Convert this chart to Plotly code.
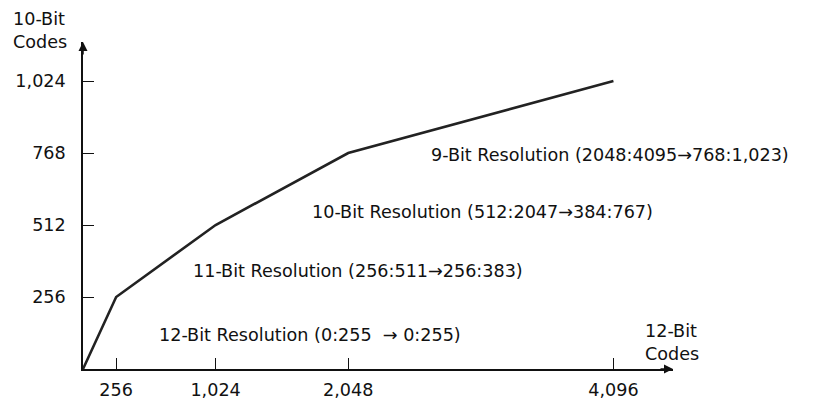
import plotly.graph_objects as go

# Data
x_codes_12bit = [0, 256, 1024, 2048, 4096]
y_codes_10bit = [0, 256, 512, 768, 1024]

x_tickvals = [256, 1024, 2048, 4096]
x_ticktext = ["256", "1,024", "2,048", "4,096"]
y_tickvals = [256, 512, 768, 1024]
y_ticktext = ["256", "512", "768", "1,024"]

region_labels = [
    "9-Bit Resolution (2048:4095\u2192768:1,023)",
    "10-Bit Resolution (512:2047\u2192384:767)",
    "11-Bit Resolution (256:511\u2192256:383)",
    "12-Bit Resolution (0:255  \u2192 0:255)",
]

W, H = 831, 404
L, R, T, B = 83, 158, 42, 35
pw, ph = W - L - R, H - T - B
XMAX = pw / 0.1295
YMAX = ph / 0.28125

def px(x):
    return (x - L) / pw

def py(y):
    return (H - B - y) / ph

FONT = "DejaVu Sans"
FS = 17.6

fig = go.Figure()
fig.add_trace(go.Scatter(
    x=x_codes_12bit, y=y_codes_10bit, mode="lines",
    line=dict(color="#222222", width=2.6), hoverinfo="skip", showlegend=False,
))

label_pos = [(429, 155), (310, 212), (191, 271), (157, 335)]
annotations = []
for text, (lx, ly) in zip(region_labels, label_pos):
    annotations.append(dict(
        text=text, xref="paper", yref="paper", x=px(lx), y=py(ly),
        xanchor="left", yanchor="middle", showarrow=False,
        font=dict(family=FONT, size=FS, color="#111111"),
    ))

# axis titles
annotations.append(dict(
    text="10-Bit<br>Codes", xref="paper", yref="paper", x=px(11), y=py(31),
    xanchor="left", yanchor="middle", align="left", showarrow=False,
    font=dict(family=FONT, size=FS, color="#111111"),
))
annotations.append(dict(
    text="12-Bit<br>Codes", xref="paper", yref="paper", x=px(643), y=py(342),
    xanchor="left", yanchor="middle", align="left", showarrow=False,
    font=dict(family=FONT, size=FS, color="#111111"),
))

# axis arrowheads
annotations.append(dict(
    x=1, y=0, xref="paper", yref="paper", ax=-14, ay=0, text="",
    showarrow=True, arrowhead=2, arrowsize=1.2, arrowwidth=1.5, arrowcolor="#111111",
))
annotations.append(dict(
    x=0, y=1, xref="paper", yref="paper", ax=0, ay=14, text="",
    showarrow=True, arrowhead=2, arrowsize=1.2, arrowwidth=1.5, arrowcolor="#111111",
))

fig.update_layout(
    width=W, height=H, autosize=False,
    margin=dict(l=L, r=R, t=T, b=B, pad=0, autoexpand=False),
    paper_bgcolor="white", plot_bgcolor="white",
    font=dict(family=FONT, size=FS, color="#111111"),
    annotations=annotations,
    xaxis=dict(
        range=[0, XMAX], showgrid=False, zeroline=False, automargin=False,
        showline=True, linecolor="#111111", linewidth=1.5,
        ticks="inside", ticklen=11, tickwidth=1.2, tickcolor="#111111",
        tickvals=x_tickvals, ticktext=x_ticktext,
        ticklabelstandoff=4,
    ),
    yaxis=dict(
        range=[0, YMAX], showgrid=False, zeroline=False, automargin=False,
        showline=True, linecolor="#111111", linewidth=1.5,
        ticks="inside", ticklen=11, tickwidth=1.2, tickcolor="#111111",
        tickvals=y_tickvals, ticktext=y_ticktext,
        ticklabelstandoff=12,
    ),
)

fig.write_html(
    "out.html",
    config={"displayModeBar": False},
    post_script="document.body.style.margin='0px';document.body.style.overflow='hidden';",
)
